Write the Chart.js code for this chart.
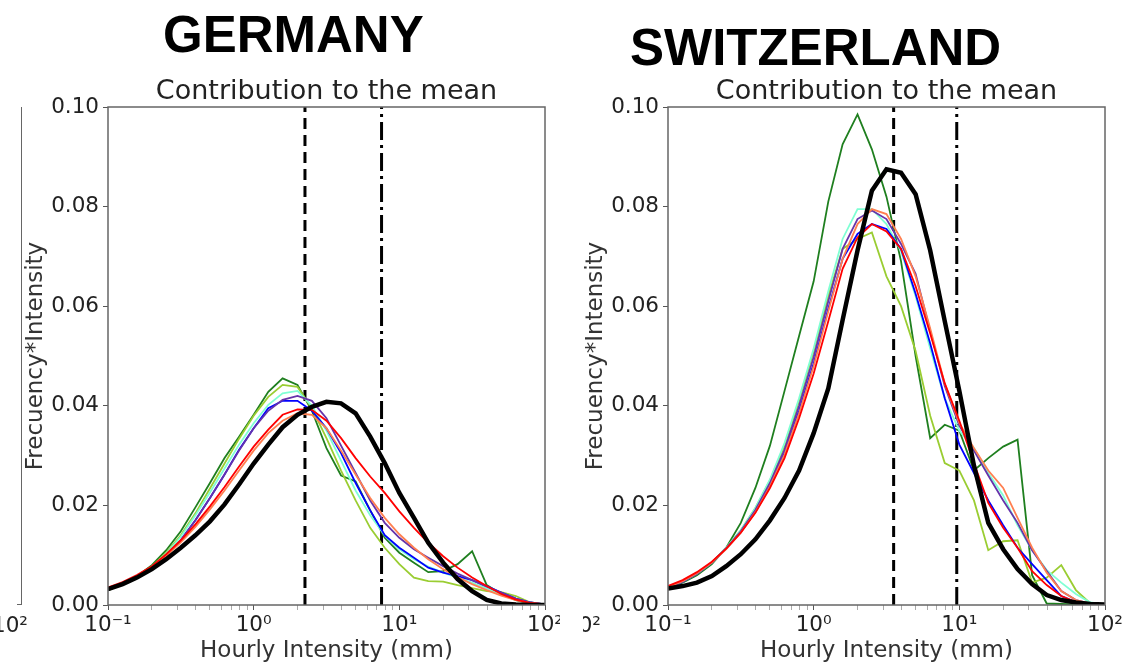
<!DOCTYPE html>
<html>
<head>
<meta charset="utf-8">
<script src="https://cdn.jsdelivr.net/npm/chart.js@4.4.0/dist/chart.umd.min.js"></script>
<style>
  body { margin: 0; background: #fff; }
  #page { position: relative; width: 1126px; height: 666px; overflow: hidden; font-family: 'DejaVu Sans', sans-serif; }
  .panel { position: absolute; top: 0; height: 666px; overflow: hidden; }
  .country { position: absolute; font-family: 'Liberation Sans', Arial, sans-serif; font-weight: bold; font-size: 51px; line-height: 1; color: #000; white-space: nowrap; }
  .stray { position: absolute; top: 612px; height: 30px; overflow: hidden; font-size: 21.5px; color: #222; white-space: nowrap; }
</style>
</head>
<body>
<div id="page">
  <div class="panel" style="left:0;width:560px"><canvas id="germany" width="580" height="666"></canvas></div>
  <div class="panel" style="left:560px;width:566px"><canvas id="switzerland" width="566" height="666"></canvas></div>
  <div class="country" style="left:163px;top:9px">GERMANY</div>
  <div class="country" style="left:630px;top:22px">SWITZERLAND</div>
  <!-- bits of the neighbouring panel that were cropped into the picture -->
  <div style="position:absolute;left:21px;top:107px;width:1px;height:498px;background:#666"></div>
  <div style="position:absolute;left:17px;top:604px;width:4px;height:1px;background:#666"></div>
  <div class="stray" style="left:0;width:28px"><span style="position:absolute;right:0">10²</span></div>
  <div class="stray" style="left:583px;width:18px"><span style="position:absolute;right:0">10²</span></div>
</div>
<script>
// intensity bins (mm/h), shared by all curves
const xBins = [0.1, 0.126, 0.158, 0.2, 0.251, 0.316, 0.398, 0.501, 0.631, 0.794,
  1, 1.26, 1.58, 2, 2.51, 3.16, 3.98, 5.01, 6.31, 7.94,
  10, 12.6, 15.8, 20, 25.1, 31.6, 39.8, 50.1, 63.1, 79.4, 100];

// tick positions / labels on the log axis
const xTickValues = [0.1, 0.2, 0.3, 0.4, 0.5, 0.6, 0.7, 0.8, 0.9,
  1, 2, 3, 4, 5, 6, 7, 8, 9, 10, 20, 30, 40, 50, 60, 70, 80, 90, 100];
const decadeValues = [0.1, 1, 10, 100];
const decadeLabels = ['10⁻¹', '10⁰', '10¹', '10²'];
const yTickValues = [0, 0.02, 0.04, 0.06, 0.08, 0.1];

// Germany
const deDarkGreen = [0.003, 0.0042, 0.0058, 0.008, 0.011, 0.0148, 0.0196, 0.0245, 0.0295, 0.0338, 0.0382, 0.0428, 0.0455, 0.0442, 0.039, 0.0315, 0.026, 0.0248, 0.019, 0.0135, 0.0105, 0.0085, 0.0066, 0.0068, 0.0082, 0.0108, 0.004, 0.0022, 0.001, 0.0003, 0.0001];
const deYellowGreen = [0.003, 0.0041, 0.0056, 0.0077, 0.0105, 0.014, 0.0184, 0.0234, 0.0284, 0.0334, 0.038, 0.0418, 0.0442, 0.0438, 0.0395, 0.0335, 0.027, 0.021, 0.0155, 0.0115, 0.0082, 0.0055, 0.0048, 0.0047, 0.004, 0.0034, 0.0028, 0.0026, 0.0018, 0.0005, 0.0001];
const deAqua = [0.0031, 0.0042, 0.0057, 0.0077, 0.0103, 0.0137, 0.018, 0.0226, 0.0274, 0.0322, 0.0365, 0.0402, 0.0425, 0.043, 0.04, 0.035, 0.029, 0.023, 0.018, 0.014, 0.0112, 0.0092, 0.0077, 0.0065, 0.0055, 0.0045, 0.0033, 0.0022, 0.0012, 0.0004, 0.0001];
const deBlue = [0.0031, 0.0042, 0.0056, 0.0075, 0.0099, 0.013, 0.017, 0.0215, 0.0262, 0.0312, 0.0355, 0.0395, 0.041, 0.041, 0.039, 0.0355, 0.0305, 0.0245, 0.019, 0.014, 0.0115, 0.0095, 0.0075, 0.0065, 0.0058, 0.005, 0.0038, 0.0025, 0.0013, 0.0005, 0.0001];
const dePurple = [0.0031, 0.0042, 0.0056, 0.0075, 0.0099, 0.013, 0.017, 0.0215, 0.0262, 0.031, 0.0355, 0.039, 0.0412, 0.042, 0.041, 0.0375, 0.032, 0.0265, 0.021, 0.0165, 0.0135, 0.0112, 0.0095, 0.0078, 0.0063, 0.005, 0.0037, 0.0025, 0.0013, 0.0005, 0.0001];
const deCoral = [0.0033, 0.0044, 0.0058, 0.0076, 0.0099, 0.0126, 0.0157, 0.0192, 0.023, 0.027, 0.031, 0.0345, 0.037, 0.0385, 0.0382, 0.0355, 0.031, 0.0262, 0.0215, 0.0175, 0.0142, 0.0115, 0.0092, 0.0072, 0.0056, 0.0042, 0.003, 0.0019, 0.001, 0.0004, 0.0001];
const deRed = [0.0035, 0.0046, 0.006, 0.0078, 0.0102, 0.013, 0.0162, 0.0198, 0.0237, 0.0278, 0.0318, 0.0352, 0.0382, 0.0393, 0.0392, 0.037, 0.0335, 0.0295, 0.0258, 0.0225, 0.0188, 0.0155, 0.0125, 0.0098, 0.0075, 0.0055, 0.0038, 0.0022, 0.0011, 0.0004, 0.0001];
const deBlack = [0.0032, 0.0042, 0.0055, 0.0072, 0.0092, 0.0115, 0.014, 0.0168, 0.0202, 0.0242, 0.0284, 0.0322, 0.0357, 0.0382, 0.0398, 0.0408, 0.0405, 0.0385, 0.0338, 0.0285, 0.0225, 0.0175, 0.0125, 0.0085, 0.0052, 0.0028, 0.001, 0.0003, 0.0001, 0, 0];
const deVLines = [2.25, 7.55];   // dashed, dash-dot

// Switzerland
const chDarkGreen = [0.0035, 0.0045, 0.006, 0.0082, 0.0115, 0.0165, 0.0235, 0.032, 0.043, 0.054, 0.065, 0.081, 0.0925, 0.0985, 0.0915, 0.082, 0.069, 0.05, 0.0335, 0.0362, 0.035, 0.027, 0.0295, 0.0318, 0.0332, 0.006, 0.0003, 0.0002, 0.0001, 0.0001, 0];
const chYellowGreen = [0.0035, 0.0047, 0.0063, 0.0085, 0.0115, 0.015, 0.0195, 0.025, 0.032, 0.041, 0.051, 0.062, 0.0715, 0.0735, 0.0748, 0.066, 0.06, 0.051, 0.038, 0.0285, 0.027, 0.021, 0.011, 0.0128, 0.013, 0.0045, 0.0055, 0.008, 0.003, 0.0003, 0.0001];
const chAqua = [0.0035, 0.0047, 0.0063, 0.0085, 0.0115, 0.015, 0.0195, 0.0252, 0.0325, 0.0415, 0.0515, 0.063, 0.0735, 0.0795, 0.0795, 0.0765, 0.071, 0.062, 0.0515, 0.0415, 0.035, 0.0315, 0.0265, 0.022, 0.016, 0.011, 0.007, 0.0045, 0.0022, 0.0005, 0.0001];
const chBlue = [0.0035, 0.0047, 0.0063, 0.0085, 0.0113, 0.0146, 0.0188, 0.024, 0.0305, 0.039, 0.0485, 0.0595, 0.0695, 0.0745, 0.0765, 0.0755, 0.0715, 0.0625, 0.0525, 0.0415, 0.0322, 0.0265, 0.021, 0.016, 0.0115, 0.0082, 0.005, 0.0018, 0.0006, 0.0002, 0.0001];
const chPurple = [0.0035, 0.0047, 0.0063, 0.0085, 0.0114, 0.0148, 0.0191, 0.0245, 0.0312, 0.04, 0.0498, 0.061, 0.0715, 0.0775, 0.0792, 0.0775, 0.0725, 0.0665, 0.055, 0.044, 0.036, 0.031, 0.026, 0.021, 0.0165, 0.011, 0.0068, 0.0028, 0.001, 0.0003, 0.0001];
const chCoral = [0.0036, 0.0048, 0.0064, 0.0085, 0.0112, 0.0145, 0.0186, 0.0238, 0.0302, 0.0385, 0.048, 0.059, 0.0695, 0.0765, 0.0795, 0.0785, 0.0735, 0.066, 0.0555, 0.0445, 0.0365, 0.0315, 0.027, 0.0235, 0.0175, 0.0115, 0.0065, 0.0028, 0.001, 0.0003, 0.0001];
const chRed = [0.0038, 0.005, 0.0066, 0.0087, 0.0113, 0.0145, 0.0185, 0.0235, 0.0295, 0.0375, 0.0465, 0.057, 0.0675, 0.0738, 0.0765, 0.075, 0.0715, 0.064, 0.0545, 0.0445, 0.037, 0.0285, 0.0205, 0.0155, 0.0115, 0.0068, 0.004, 0.0018, 0.0006, 0.0002, 0.0001];
const chBlack = [0.0033, 0.0038, 0.0045, 0.0058, 0.0078, 0.0102, 0.0132, 0.017, 0.0215, 0.027, 0.0345, 0.0435, 0.0572, 0.0712, 0.0832, 0.0875, 0.0868, 0.0825, 0.0712, 0.057, 0.043, 0.028, 0.0165, 0.0112, 0.0072, 0.0042, 0.002, 0.001, 0.0005, 0.0002, 0.0001];
const chVLines = [3.54, 9.6];

const colors = {
  darkGreen: '#1f7f1f', yellowGreen: '#9acd32', aqua: '#7fffd4', blue: '#0000ff',
  purple: '#6633aa', coral: '#ff7f50', red: '#ff0000', black: '#000000'
};

Chart.defaults.font.family = "'DejaVu Sans', sans-serif";
Chart.defaults.color = '#222';

function toPoints(vals) {
  return xBins.map((x, i) => ({ x: x, y: vals[i] }));
}

function curve(vals, color, width) {
  return { data: toPoints(vals), borderColor: color, borderWidth: width || 1.8,
           pointRadius: 0, tension: 0, fill: false };
}

function vline(x, dash) {
  return { data: [{ x: x, y: 0 }, { x: x, y: 0.1 }], borderColor: '#000', borderWidth: 3,
           borderDash: dash, pointRadius: 0, fill: false };
}

// box around the plot area + the small title above it
const framePlugin = {
  id: 'frame',
  afterDatasetsDraw(chart, args, opts) {
    const { ctx, chartArea: a } = chart;
    ctx.save();
    ctx.strokeStyle = '#666';
    ctx.lineWidth = 1.5;
    ctx.strokeRect(a.left, a.top, a.right - a.left, a.bottom - a.top);
    ctx.fillStyle = '#222';
    ctx.font = "27px 'DejaVu Sans'";
    ctx.textAlign = 'center';
    ctx.textBaseline = 'middle';
    ctx.fillText(opts.text, (a.left + a.right) / 2, a.top - 15);
    ctx.restore();
  }
};

function makeChart(id, series, vlines, padRight) {
  const ctx = document.getElementById(id).getContext('2d');
  const datasets = [
    curve(series.black, colors.black, 4.5),
    curve(series.red, colors.red),
    curve(series.coral, colors.coral),
    curve(series.purple, colors.purple),
    curve(series.blue, colors.blue),
    curve(series.aqua, colors.aqua),
    curve(series.yellowGreen, colors.yellowGreen),
    curve(series.darkGreen, colors.darkGreen),
    vline(vlines[0], [11, 6]),
    vline(vlines[1], [18, 5, 3, 5])
  ];
  return new Chart(ctx, {
    type: 'line',
    data: { datasets: datasets },
    plugins: [framePlugin],
    options: {
      responsive: false,
      animation: false,
      devicePixelRatio: 1,
      layout: { padding: { top: 107, right: padRight, bottom: 0, left: 0 } },
      plugins: {
        legend: { display: false },
        tooltip: { enabled: false },
        frame: { text: 'Contribution to the mean' }
      },
      scales: {
        x: {
          type: 'logarithmic',
          min: 0.1,
          max: 100,
          afterBuildTicks: s => { s.ticks = xTickValues.map(v => ({ value: v })); },
          afterFit: s => { s.height = 61; },
          border: { display: false },
          grid: {
            drawOnChartArea: false,
            drawTicks: true,
            tickLength: 5,
            tickColor: c => decadeValues.includes(c.tick.value) ? '#555' : '#aaa'
          },
          ticks: {
            autoSkip: false,
            maxRotation: 0,
            padding: 3,
            color: '#222',
            font: { size: 21.5 },
            callback: v => {
              const i = decadeValues.indexOf(v);
              return i >= 0 ? decadeLabels[i] : '';
            }
          },
          title: {
            display: true,
            text: 'Hourly Intensity (mm)',
            color: '#333',
            font: { size: 23 },
            padding: { top: 0, bottom: 1 }
          }
        },
        y: {
          type: 'linear',
          min: 0,
          max: 0.1,
          afterBuildTicks: s => { s.ticks = yTickValues.map(v => ({ value: v })); },
          afterFit: s => { s.width = 108; },
          border: { display: false },
          grid: { drawOnChartArea: false, drawTicks: true, tickLength: 5, tickColor: '#555' },
          ticks: {
            padding: 4,
            color: '#222',
            font: { size: 21.5 },
            callback: v => v.toFixed(2)
          },
          title: {
            display: true,
            text: 'Frecuency*Intensity',
            color: '#333',
            font: { size: 23 },
            padding: { top: 22, bottom: 0 }
          }
        }
      }
    }
  });
}

makeChart('germany', {
  darkGreen: deDarkGreen, yellowGreen: deYellowGreen, aqua: deAqua, blue: deBlue,
  purple: dePurple, coral: deCoral, red: deRed, black: deBlack
}, deVLines, 35);

makeChart('switzerland', {
  darkGreen: chDarkGreen, yellowGreen: chYellowGreen, aqua: chAqua, blue: chBlue,
  purple: chPurple, coral: chCoral, red: chRed, black: chBlack
}, chVLines, 21);
</script>
</body>
</html>
